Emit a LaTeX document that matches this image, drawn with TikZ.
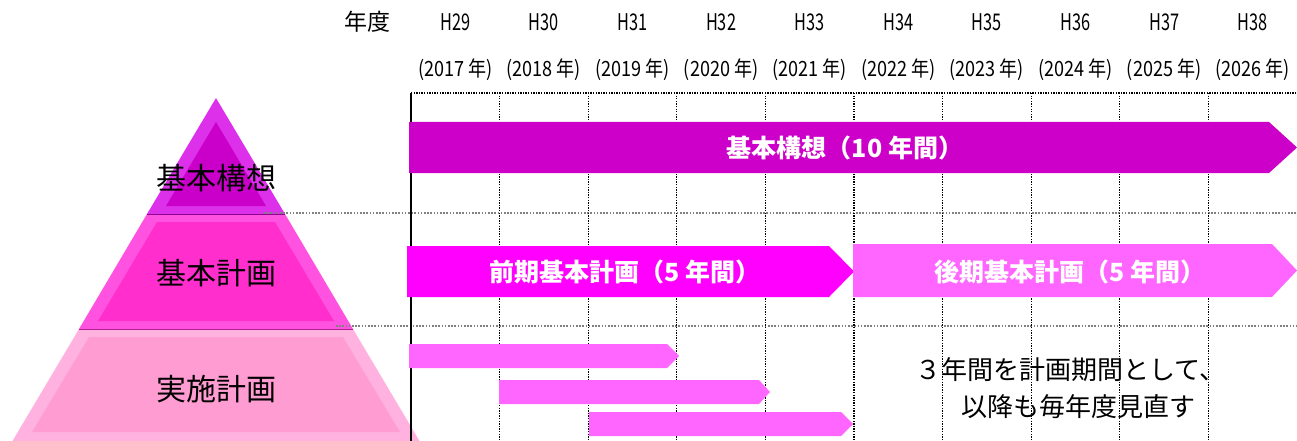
\documentclass[tikz,border=0pt]{standalone}
\usepackage{fontspec}
\newfontfamily\jp{Noto Sans CJK JP}
\newfontfamily\jpnarrow[FakeStretch=0.71]{Noto Sans CJK JP}
\newfontfamily\jpyear[FakeStretch=0.86]{Noto Sans CJK JP}
\definecolor{topouter}{HTML}{DC30EA}
\definecolor{topinner}{HTML}{CA00CA}
\definecolor{midouter}{HTML}{FF52E0}
\definecolor{midinner}{HTML}{FF2ECC}
\definecolor{lowouter}{HTML}{FFB2E0}
\definecolor{lowinner}{HTML}{FF9DD2}
\definecolor{concept}{HTML}{CC00C8}
\definecolor{early}{HTML}{FF00FF}
\definecolor{late}{HTML}{FF66FF}
\begin{document}
\begin{tikzpicture}[x=1pt,y=-1pt,
  hdr/.style={font=\jpnarrow\fontsize{23}{23}\selectfont},
  yr/.style={font=\jpyear\fontsize{21}{21}\selectfont},
  tierlabel/.style={font=\jp\fontsize{30}{30}\selectfont},
  barlabel/.style={font=\jp\bfseries\fontsize{25}{25}\selectfont, text=white},
  note/.style={font=\jp\fontsize{26}{26}\selectfont},
  vgrid/.style={line width=1.3pt, dash pattern=on 1.3pt off 1.3pt},
  hgrid/.style={gray, line width=1.2pt, dash pattern=on 1.6pt off 1.6pt}]
\useasboundingbox (0,0) rectangle (1297,441);
% pyramid
\fill[lowouter] (79,329) -- (353,329) -- (432,462) -- (0,462) -- cycle;
\fill[lowinner] (89,337) -- (343,337) -- (400,432) -- (32,432) -- cycle;
\fill[midouter] (147,214) -- (285,214) -- (353,329) -- (79,329) -- cycle;
\fill[midinner] (157,222) -- (275,222) -- (334,321) -- (98,321) -- cycle;
\fill[topouter] (216,98) -- (285,214) -- (147,214) -- cycle;
\fill[topinner] (216,122) -- (266,206) -- (166,206) -- cycle;
\draw[topinner!70!black, line width=1pt] (147,214) -- (285,214);
\draw[midinner!70!black, line width=1pt] (79,329) -- (353,329);
% grid
\draw[hgrid] (264,213) -- (1297,213);
\draw[hgrid] (336,326) -- (1297,326);
\foreach \i in {1,...,9}
  \draw[vgrid] ({411+88.6*\i},93) -- ({411+88.6*\i},441);
\draw[vgrid] (411,93) -- (1297,93);
\draw[line width=1.5pt] (411,93) -- (411,441);
% header
\node[font=\jp\fontsize{23}{23}\selectfont] (nendo) at (367,22) {年度};
\foreach \h [count=\i from 0] in {29,...,38}{
  \pgfmathtruncatemacro\yy{2017+\i}
  \node[hdr] (h\h) at ({411+88.6*(\i+0.5)},22) {H\h};
  \node[yr] (y\yy) at ({411+88.6*(\i+0.5)},70) {(\yy\ 年)};
}
% bars
\fill[concept] (409,122) -- (1269,122) -- (1297,147.5) -- (1269,173) -- (409,173) -- cycle;
\fill[early] (407,246) -- (829,246) -- (854,271.5) -- (829,297) -- (407,297) -- cycle;
\fill[late] (853,244) -- (1272,244) -- (1297,270.5) -- (1272,297) -- (853,297) -- cycle;
\fill[late] (409,344) -- (667,344) -- (679,356) -- (667,368) -- (409,368) -- cycle;
\fill[late] (499,380) -- (759,380) -- (770,392) -- (759,404) -- (499,404) -- cycle;
\fill[late] (589,412) -- (841,412) -- (853,424) -- (841,436) -- (589,436) -- cycle;
\node[barlabel] (concepttxt) at (845,148) {基本構想（10 年間）};
\node[barlabel] (earlytxt) at (625,272) {前期基本計画（5 年間）};
\node[barlabel] (latetxt) at (1070,272) {後期基本計画（5 年間）};
% pyramid labels
\node[tierlabel] (kousou) at (216,178) {基本構想};
\node[tierlabel] (keikaku) at (216,273) {基本計画};
\node[tierlabel] (jisshi) at (216,389) {実施計画};
% note
\node[note] (note1) at (1070,370) {３年間を計画期間として、};
\node[note] (note2) at (1078,407) {以降も毎年度見直す};
\end{tikzpicture}
\end{document}
